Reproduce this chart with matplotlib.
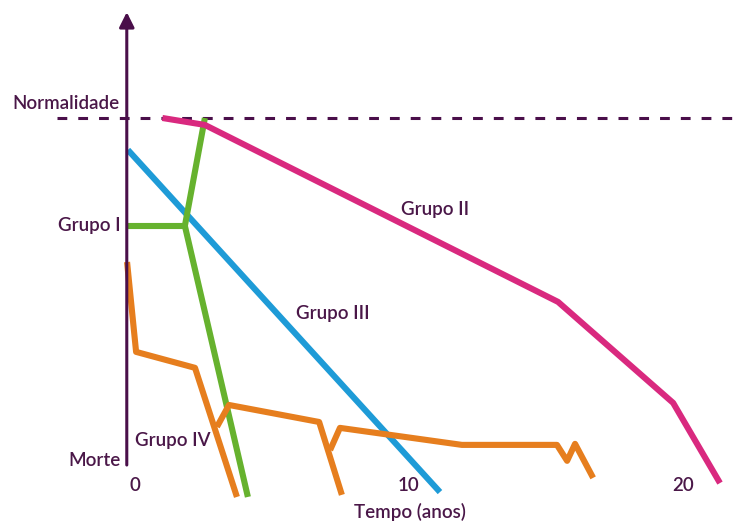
import matplotlib.pyplot as plt

# Curve data: time (years), state score (0 = Morte, 100 = Normalidade)
grupo2_t = [1.0, 2.55, 15.44, 19.64, 21.35]
grupo2_v = [100, 98.0, 47.0, 17.9, -5.2]

grupo1_flat_t = [-0.3, 1.82]
grupo1_flat_v = [68.9, 68.9]
grupo1_t = [2.55, 1.82, 4.12]
grupo1_v = [100, 68.9, -9.2]

grupo3_t = [-0.26, 11.13]
grupo3_v = [90.8, -7.8]

grupo4_a_t = [-0.29, 0.04, 2.19, 3.72]
grupo4_a_v = [58.5, 32.6, 28.0, -9.2]
grupo4_b_t = [2.99, 3.43, 6.72, 7.55]
grupo4_b_v = [11.0, 17.3, 12.4, -8.6]
grupo4_c_t = [7.12, 7.48, 11.93, 15.40, 15.77, 16.06, 16.72]
grupo4_c_v = [4.3, 10.7, 5.8, 5.8, 1.2, 6.1, -3.7]

xticks = [0, 10, 20]
normal_level = 100

purple = "#4a0f4a"
text_col = "#4a1748"
lw = 4.4

plt.rcParams["font.family"] = ["Lato", "DejaVu Sans"]

fig = plt.figure(figsize=(7.36, 5.23), dpi=100)
ax = fig.add_axes([0, 0, 1, 1])
ax.set_xlim(-4.927, 21.934)
ax.set_ylim(-16.71, 134.0)
ax.axis("off")

# axes with arrows
ax.annotate("", xy=(-0.3, 130.5), xytext=(-0.3, 0),
            arrowprops=dict(arrowstyle="-|>,head_length=0.9,head_width=0.45",
                            color=purple, lw=2.2, shrinkA=0, shrinkB=0))
ax.annotate("", xy=(22.1, 0), xytext=(-0.3, 0),
            arrowprops=dict(arrowstyle="-|>,head_length=0.9,head_width=0.45",
                            color=purple, lw=2.2, shrinkA=0, shrinkB=0))

# normality line
ax.plot([-2.85, 21.93], [normal_level, normal_level], color=purple, lw=2.2,
        dashes=(3.2, 3.6))

ax.plot(grupo3_t, grupo3_v, color="#1e9bd7", lw=lw, solid_capstyle="butt")
ax.plot(grupo1_flat_t, grupo1_flat_v, color="#66b22e", lw=lw, solid_capstyle="butt")
ax.plot(grupo1_t, grupo1_v, color="#66b22e", lw=lw, solid_capstyle="butt")
for tt, vv in [(grupo4_a_t, grupo4_a_v), (grupo4_b_t, grupo4_b_v), (grupo4_c_t, grupo4_c_v)]:
    ax.plot(tt, vv, color="#e67e1e", lw=lw, solid_capstyle="butt")
ax.plot(grupo2_t, grupo2_v, color="#d9297f", lw=lw, solid_capstyle="butt")

fs = 13.5
fw = "semibold"
ax.text(-0.55, 104.3, "Normalidade", ha="right", va="center", fontsize=fs, color=text_col, weight=fw)
ax.text(-0.51, 68.9, "Grupo I", ha="right", va="center", fontsize=fs, color=text_col, weight=fw)
ax.text(-0.51, 1.2, "Morte", ha="right", va="center", fontsize=fs, color=text_col, weight=fw)
ax.text(0.0, 7.2, "Grupo IV", ha="left", va="center", fontsize=fs, color=text_col, weight=fw)
ax.text(5.88, 43.8, "Grupo III", ha="left", va="center", fontsize=fs, color=text_col, weight=fw)
ax.text(9.71, 73.5, "Grupo II", ha="left", va="center", fontsize=fs, color=text_col, weight=fw)
for t in xticks:
    ax.text(t, -5.8, str(t), ha="center", va="center", fontsize=fs, color=text_col, weight=fw)
ax.text(10.04, -13.5, "Tempo (anos)", ha="center", va="center", fontsize=fs, color=text_col, weight=fw)

fig.savefig("out.png", dpi=100)
